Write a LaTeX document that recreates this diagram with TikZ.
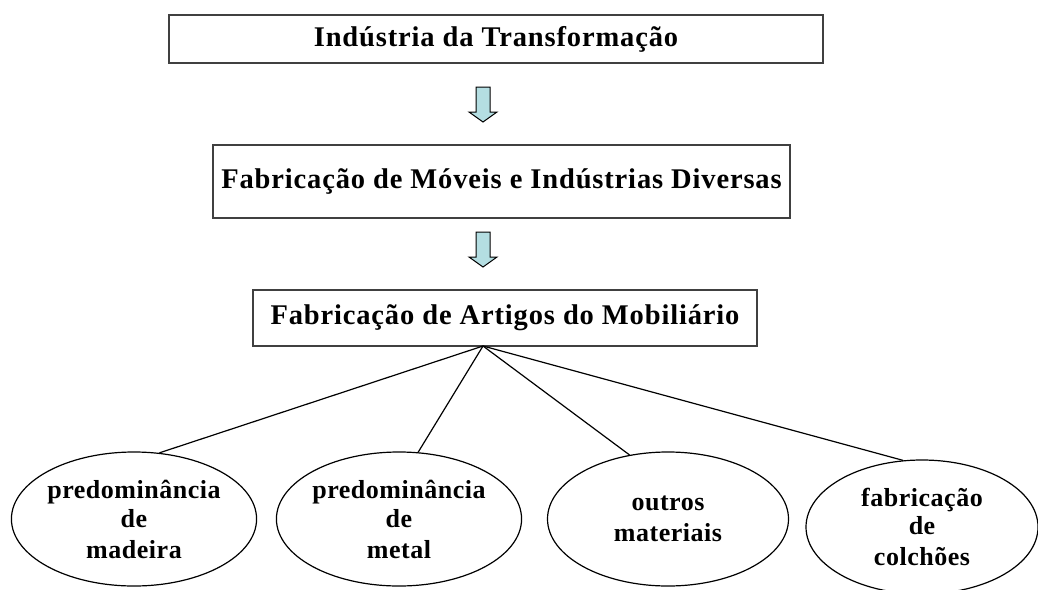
\documentclass[tikz,border=0pt]{standalone}
\usepackage{fontspec}
\setmainfont{Liberation Serif}
\usetikzlibrary{shapes.geometric,calc}
\definecolor{arrowfill}{RGB}{180,222,226}
\begin{document}
\begin{tikzpicture}[x=1pt,y=-1pt,
  boxnode/.style={draw=black!75,line width=1.5pt,inner sep=0pt,font=\bfseries\fontsize{28.5}{31}\selectfont\addfontfeature{LetterSpace=3}},
  ellnode/.style={draw=black,line width=1.2pt,ellipse,fill=white,inner sep=0pt,align=center,font=\bfseries\fontsize{26}{31}\selectfont\addfontfeature{LetterSpace=2}},
  link/.style={draw=black,line width=1.2pt},
  blockarrow/.style={draw=black,line width=1pt,fill=arrowfill,line join=miter}]
\useasboundingbox (0,0) rectangle (1038,589);
% boxes
\node[boxnode,minimum width=654pt,minimum height=48pt] (b1) at (496,39) {Indústria da Transformação};
\node[boxnode,minimum width=577pt,minimum height=73pt] (b2) at (501.5,181.5) {\raisebox{-3pt}{Fabricação de Móveis e Indústrias Diversas}};
\node[boxnode,minimum width=504pt,minimum height=56pt] (b3) at (505,318) {Fabricação de Artigos do Mobiliário};
% block arrows
\coordinate (a1) at (483,87);
\coordinate (a2) at (483,232);
\foreach \a in {a1,a2}{
  \draw[blockarrow] ($(\a)+(-7,0)$) -- ($(\a)+(7,0)$) -- ($(\a)+(7,25)$) -- ($(\a)+(14,25)$) -- ($(\a)+(0,35)$) -- ($(\a)+(-14,25)$) -- ($(\a)+(-7,25)$) -- cycle;
}
% junction
\coordinate (j) at (483,346);
% ellipses
\node[ellnode,minimum width=242pt,minimum height=134pt] (e1) at (134,519) {\raisebox{-2pt}{predominância}\\de\\madeira};
\node[ellnode,minimum width=242pt,minimum height=134pt] (e2) at (399,519) {\raisebox{-2pt}{predominância}\\de\\metal};
\node[ellnode,minimum width=241pt,minimum height=134pt] (e3) at (668,519) {\raisebox{-3pt}{outros}\\\raisebox{-3pt}{materiais}};
\node[ellnode,minimum width=232pt,minimum height=134pt] (e4) at (922,527) {\raisebox{-3pt}{fabricação}\\de\\colchões};
% links
\draw[link] (j) -- (e1.69);
\draw[link] (j) -- (e2.74);
\draw[link] (j) -- (e3.121);
\draw[link] (j) -- (e4.106);
\end{tikzpicture}
\end{document}
